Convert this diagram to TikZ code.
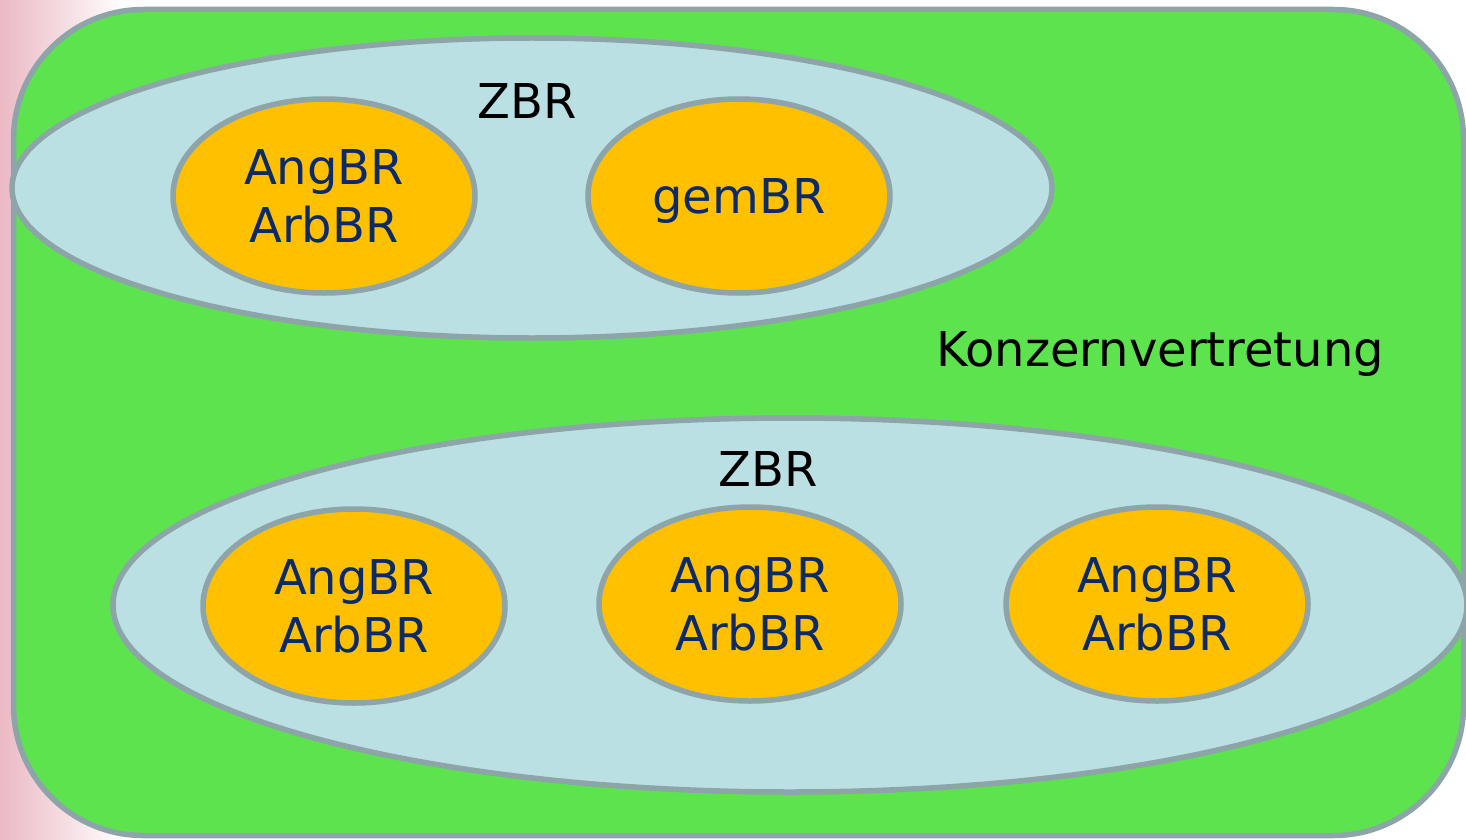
\documentclass[tikz,border=0pt]{standalone}
\usepackage{fontspec}
\setmainfont{DejaVu Sans}
\usetikzlibrary{shapes.geometric}

\definecolor{konzerngreen}{HTML}{5CE34E}
\definecolor{zbrblue}{HTML}{BAE0E3}
\definecolor{brorange}{HTML}{FFC000}
\definecolor{rimgrey}{HTML}{8DA4A9}
\definecolor{brnavy}{HTML}{0B2A66}
\definecolor{sidepink}{HTML}{EBB9C4}

\begin{document}
\begin{tikzpicture}[x=1pt, y=-1pt,
    every node/.style={font=\fontsize{48}{58}\selectfont},
    zbr/.style={ellipse, draw=rimgrey, line width=5.5pt, fill=zbrblue, inner sep=0pt},
    br/.style={ellipse, draw=rimgrey, line width=5.5pt, fill=brorange, text=brnavy,
                align=center, inner sep=0pt, minimum width=302pt, minimum height=194pt}]

  \useasboundingbox (0,0) rectangle (1466,840);
  \clip (0,0) rectangle (1466,840);
  \shade[left color=sidepink, right color=white] (0,0) rectangle (125,840);

  % Konzern
  \node[draw=rimgrey, line width=5.5pt, fill=konzerngreen, rounded corners=130pt,
        minimum width=1450pt, minimum height=826pt, inner sep=0pt] (kv) at (738.5,422.5) {};
  \node (kvlabel) at (1160,354) {Konzernvertretung};

  % first ZBR
  \node[zbr, minimum width=1040pt, minimum height=300pt] (zbrA) at (532,188) {};
  \node (zbrAlabel) at (527,101) {ZBR};
  \node[br] (brA) at (324,196) {AngBR\\ArbBR};
  \node[br] (brB) at (739,196) {}; % text set on its own, to centre it without the descender
  \node[text=brnavy] (brBlabel) at (739,201) {gemBR};

  % second ZBR
  \node[zbr, minimum width=1354pt, minimum height=374pt] (zbrB) at (790,605) {};
  \node (zbrBlabel) at (768,469) {ZBR};
  \node[br] (brC) at (354,606) {AngBR\\ArbBR};
  \node[br] (brD) at (750,604) {AngBR\\ArbBR};
  \node[br] (brE) at (1157,604) {AngBR\\ArbBR};

\end{tikzpicture}
\end{document}
